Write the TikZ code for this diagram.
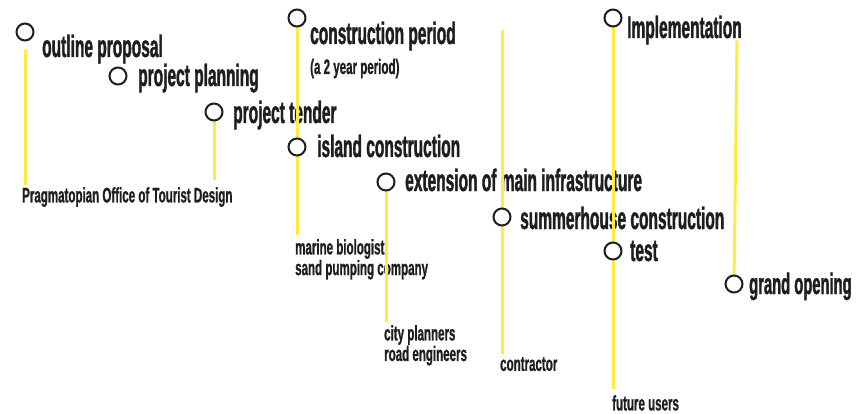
\documentclass[tikz,border=0pt]{standalone}
\usepackage{fontspec}
\newfontfamily\cndL{Liberation Sans}[FakeStretch=0.5,FakeBold=1.2]
\newfontfamily\cndS{Liberation Sans}[FakeStretch=0.55,FakeBold=0.8]
\definecolor{yel}{RGB}{255,236,60}
\definecolor{ink}{RGB}{30,30,30}
\begin{document}
\begin{tikzpicture}[x=1pt,y=-1pt,
  dot/.style={circle,draw=ink,line width=2pt,fill=white,minimum size=17pt,inner sep=0pt},
  big/.style={anchor=base west,inner sep=0pt,text=ink,font=\cndL\bfseries\fontsize{31}{31}\selectfont},
  sml/.style={anchor=north west,inner sep=0pt,text=ink,align=left,font=\cndS\bfseries\fontsize{21}{17}\selectfont},
  yl/.style={draw=yel,line width=3pt}]
\useasboundingbox[fill=white] (0,0) rectangle (856,414);

% labels
\node[big] (t1) at (42,57) {outline proposal};
\node[big] (t2) at (138,86) {project planning};
\node[big] (t3) at (233,123) {project tender};
\node[big] (t4) at (310,44) {construction period};
\node[sml,anchor=base west] (t4b) at (310,74) {(a 2 year period)};
\node[big] (t5) at (317,157) {island construction};
\node[big] (t6) at (405,191) {extension of main infrastructure};
\node[big] (t7) at (520,229) {summerhouse construction};
\node[big] (t8) at (630,261) {test};
\node[big,font=\cndL\bfseries\fontsize{29.5}{30}\selectfont] (t9) at (749,294) {grand opening};
\node[big] (t10) at (627,38) {Implementation};

\node[sml] (p1) at (22,187) {Pragmatopian Office of Tourist Design};
\node[sml] (p2) at (295,239) {marine biologist\\sand pumping company};
\node[sml] (p3) at (384,325) {city planners\\road engineers};
\node[sml] (p4) at (500,357) {contractor};
\node[sml] (p5) at (612,395) {future users};

% circle positions
\coordinate (k1) at (25,32);
\coordinate (k2) at (118,76);
\coordinate (k3) at (214,112);
\coordinate (k4) at (297,18);
\coordinate (k5) at (297,147);
\coordinate (k6) at (386,182);
\coordinate (k7) at (502,217);
\coordinate (k8) at (613,251);
\coordinate (k9) at (734,284);
\coordinate (k10) at (613,18);
\coordinate (f5) at (502,30);

% connectors
\draw[yl] ([yshift=-18pt]k1) -- ([yshift=2pt]k1 |- p1.north);
\draw[yl] (k3) -- ([yshift=7pt]k3 |- p1.north);
\draw[yl] (k4) -- (k5) -- ([yshift=4pt]k4 |- p2.north);
\draw[yl] (k6) -- ([yshift=3pt]k6 |- p3.north);
\draw[yl] (f5) -- (k7) -- ([yshift=3pt]f5 |- p4.north);
\draw[yl] (k10) -- (k8) -- ([yshift=6pt]k10 |- p5.north);
\draw[yl] (k9) -- ([xshift=3pt,yshift=4pt]k9 |- t10.south) coordinate (e10);

% circles
\foreach \i in {1,...,10} \node[dot] (c\i) at (k\i) {};
\end{tikzpicture}
\end{document}
